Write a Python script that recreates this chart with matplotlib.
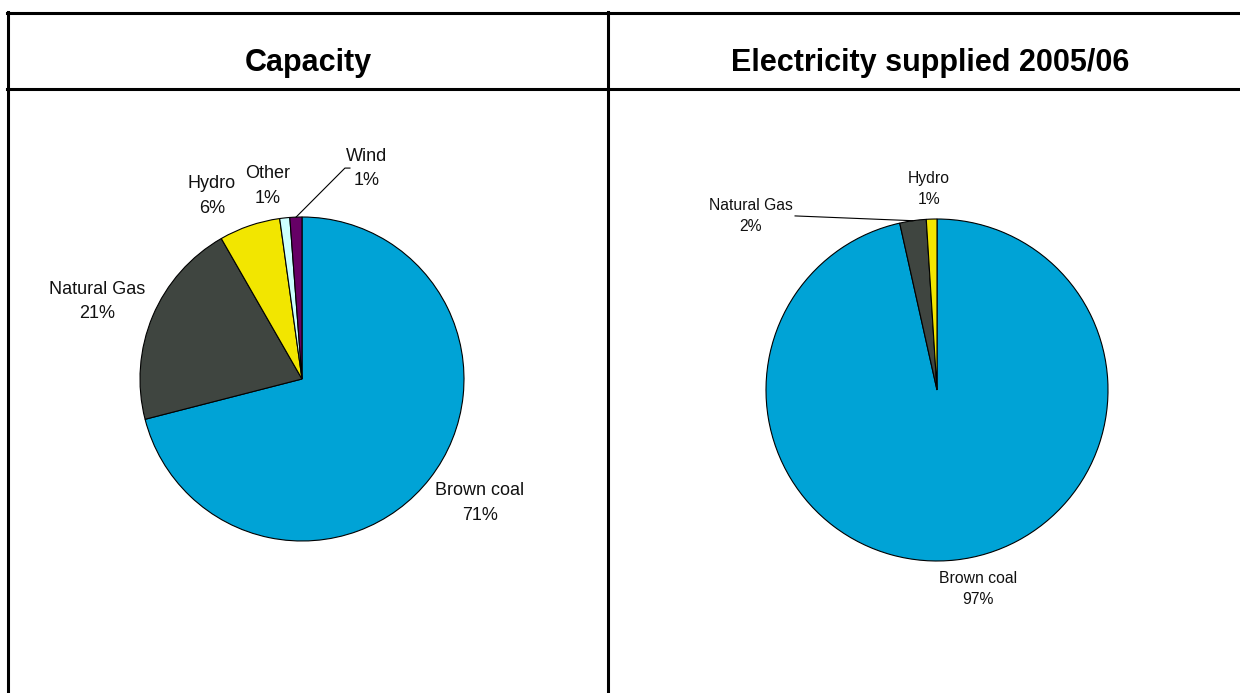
import matplotlib
matplotlib.use("Agg")
import matplotlib.pyplot as plt
from matplotlib.lines import Line2D

plt.rcParams['font.family'] = ['Liberation Sans', 'DejaVu Sans']

# ---- data ----
titles = ["Capacity", "Electricity supplied 2005/06"]

cap_labels = ["Brown coal", "Natural Gas", "Hydro", "Other", "Wind"]
cap_values = [71.0, 20.7, 6.1, 1.0, 1.2]
cap_pct = ["71%", "21%", "6%", "1%", "1%"]

sup_labels = ["Brown coal", "Natural Gas", "Hydro"]
sup_values = [96.5, 2.5, 1.0]
sup_pct = ["97%", "2%", "1%"]

colors = {"Brown coal": "#00A3D6", "Natural Gas": "#3F4540", "Hydro": "#F2E600",
          "Other": "#CCFFFF", "Wind": "#660066"}

# ---- layout (pixels) ----
W, H = 1240, 693
fig = plt.figure(figsize=(W / 100, H / 100), dpi=100)
fig.patch.set_facecolor("white")

def px(x, y):
    return x / W, 1 - y / H

lw = 2.2
for (x0, y0, x1, y1) in [(7, 12.5, 1240, 12.5), (7, 89, 1240, 89),
                         (8, 12, 8, 693), (608, 12, 608, 693)]:
    a, b = px(x0, y0)
    c, d = px(x1, y1)
    fig.add_artist(Line2D([a, c], [b, d], color="black", lw=lw, transform=fig.transFigure))

fig.text(*px(308, 63), titles[0], ha="center", va="center", fontsize=22, fontweight="bold")
fig.text(*px(930, 63), titles[1], ha="center", va="center", fontsize=22, fontweight="bold")

def make_pie(cx, cy, r, labels, values, pcts, label_pos, fs, leaders):
    ax = fig.add_axes([(cx - r) / W, 1 - (cy + r) / H, 2 * r / W, 2 * r / H])
    ax.pie(values, colors=[colors[l] for l in labels], startangle=90, counterclock=False,
           radius=1, wedgeprops=dict(edgecolor="black", linewidth=0.8))
    ax.set_xlim(-1, 1)
    ax.set_ylim(-1, 1)
    ax.set_aspect("equal")
    ax.axis("off")
    for lab, pct, (x, y) in zip(labels, pcts, label_pos):
        ax.text(x, y, f"{lab}\n{pct}", ha="center", va="center", fontsize=fs,
                linespacing=1.55, color="#111111", clip_on=False)
    for pts in leaders:
        xs, ys = zip(*pts)
        ax.plot(xs, ys, color="black", lw=0.8, clip_on=False)
    return ax

cap_label_pos = [(1.099, -0.765), (-1.265, 0.481), (-0.556, 1.130), (-0.210, 1.191), (0.401, 1.302)]
cap_leaders = [[(-0.037, 0.999), (0.265, 1.302), (0.296, 1.302)]]
make_pie(302, 379, 162, cap_labels, cap_values, cap_pct, cap_label_pos, 13, cap_leaders)

sup_label_pos = [(0.240, -1.164), (-1.088, 1.018), (-0.047, 1.175)]
sup_leaders = [[(-0.830, 1.018), (-0.141, 0.990)]]
make_pie(937, 390, 171, sup_labels, sup_values, sup_pct, sup_label_pos, 11.3, sup_leaders)

fig.savefig("out.png", dpi=100)
